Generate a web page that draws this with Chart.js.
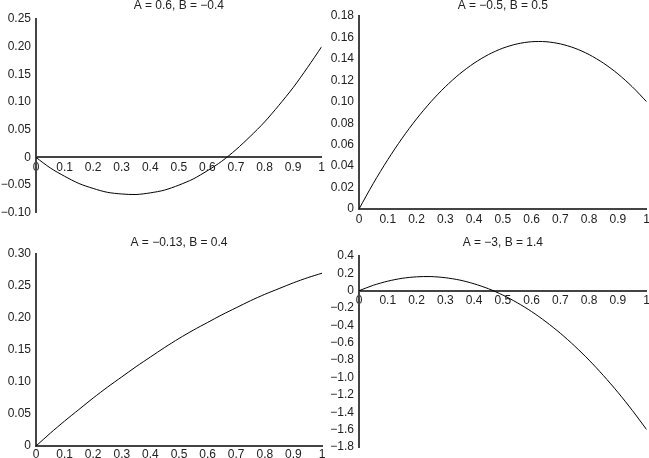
<!DOCTYPE html>
<html>
<head>
<meta charset="utf-8">
<script src="https://cdn.jsdelivr.net/npm/chart.js@4.4.0/dist/chart.umd.min.js"></script>
<style>
  html, body { margin: 0; padding: 0; background: #fff; }
  body { position: relative; width: 649px; height: 458px; overflow: hidden; }
  canvas { position: absolute; }
</style>
</head>
<body>
<canvas id="c1" width="328" height="227" style="left:0px;top:-2px"></canvas>
<canvas id="c2" width="323" height="229" style="left:330px;top:-2px"></canvas>
<canvas id="c3" width="328" height="225" style="left:0px;top:235px"></canvas>
<canvas id="c4" width="323" height="226" style="left:330px;top:235px"></canvas>
<script>
// x positions sampled along each curve
const xs = [0, 0.05, 0.1, 0.15, 0.2, 0.25, 0.3, 0.35, 0.4, 0.45, 0.5,
            0.55, 0.6, 0.65, 0.7, 0.75, 0.8, 0.85, 0.9, 0.95, 1];

// values
const ys1 = [0, -0.019, -0.034, -0.047, -0.056, -0.063, -0.066, -0.067, -0.064, -0.059, -0.05,
             -0.039, -0.024, -0.007, 0.014, 0.038, 0.064, 0.094, 0.126, 0.162, 0.2];
const ys2 = [0, 0.024, 0.046, 0.066, 0.084, 0.1, 0.114, 0.126, 0.136, 0.144, 0.15,
             0.154, 0.156, 0.156, 0.154, 0.15, 0.144, 0.136, 0.126, 0.114, 0.1];
const ys3 = [0, 0.020, 0.039, 0.057, 0.075, 0.092, 0.108, 0.124, 0.139, 0.154, 0.168,
             0.181, 0.193, 0.205, 0.216, 0.227, 0.237, 0.246, 0.255, 0.263, 0.27];
const ys4 = [0, 0.063, 0.11, 0.143, 0.16, 0.163, 0.15, 0.123, 0.08, 0.023, -0.05,
             -0.138, -0.24, -0.358, -0.49, -0.638, -0.8, -0.978, -1.17, -1.378, -1.6];

const titles = ['A = 0.6, B = \u22120.4', 'A = \u22120.5, B = 0.5', 'A = \u22120.13, B = 0.4', 'A = \u22123, B = 1.4'];

// y axis ranges: [min, max, step, decimals]
const yRange1 = [-0.10, 0.25, 0.05, 2];
const yRange2 = [0, 0.18, 0.02, 2];
const yRange3 = [0, 0.30, 0.05, 2];
const yRange4 = [-1.8, 0.4, 0.2, 1];

const FONT = { family: 'Liberation Sans, Arial, Helvetica, sans-serif', size: 12 };
const TEXT = '#222';
const AXIS = '#444';

function fmt(v, dec) {
    if (Math.abs(v) < 1e-9) return '0';
    return v.toFixed(dec).replace('-', '\u2212');
}

function fmtX(v) {
    if (Math.abs(v) < 1e-9) return '0';
    if (Math.abs(v - 1) < 1e-9) return '1';
    return v.toFixed(1);
}

function makeChart(id, ys, title, range, box) {
    const ctx = document.getElementById(id).getContext('2d');
    new Chart(ctx, {
        type: 'line',
        data: {
            datasets: [{
                data: xs.map((x, i) => ({ x: x, y: ys[i] })),
                borderColor: '#000',
                borderWidth: 1,
                pointRadius: 0,
                tension: 0.3,
                fill: false
            }]
        },
        options: {
            responsive: false,
            animation: false,
            devicePixelRatio: 1,
            layout: { padding: { left: 0, top: 0, right: box.pr, bottom: box.pb } },
            plugins: {
                legend: { display: false },
                tooltip: { enabled: false },
                title: {
                    display: true,
                    text: title,
                    fullSize: false,
                    color: TEXT,
                    font: { family: FONT.family, size: 12, weight: 'normal' },
                    padding: { top: 0, bottom: box.tb }
                }
            },
            scales: {
                x: {
                    type: 'linear',
                    position: { y: 0 },
                    min: 0,
                    max: 1,
                    grid: { display: false, drawTicks: false },
                    border: { display: true, color: AXIS, width: 2 },
                    ticks: {
                        stepSize: 0.1,
                        autoSkip: false,
                        maxRotation: 0,
                        padding: box.xp,
                        color: TEXT,
                        font: FONT,
                        callback: v => fmtX(v)
                    }
                },
                y: {
                    position: 'left',
                    min: range[0],
                    max: range[1],
                    grid: { display: false, drawTicks: false },
                    border: { display: true, color: AXIS, width: 2 },
                    afterFit: s => { s.width = box.yw; },
                    ticks: {
                        stepSize: range[2],
                        autoSkip: false,
                        padding: 5,
                        color: TEXT,
                        font: FONT,
                        callback: v => fmt(v, range[3])
                    }
                }
            }
        }
    });
}

makeChart('c1', ys1, titles[0], yRange1, { yw: 36, pr: 6, pb: 10, tb: 6.6, xp: 3 });
makeChart('c2', ys2, titles[1], yRange2, { yw: 29, pr: 5, pb: 18, tb: 3.6, xp: 3 });
makeChart('c3', ys3, titles[2], yRange3, { yw: 36, pr: 6, pb: 14, tb: 4.6, xp: 1 });
makeChart('c4', ys4, titles[3], yRange4, { yw: 29, pr: 5, pb: 14, tb: 6.6, xp: 3 });
</script>
</body>
</html>
